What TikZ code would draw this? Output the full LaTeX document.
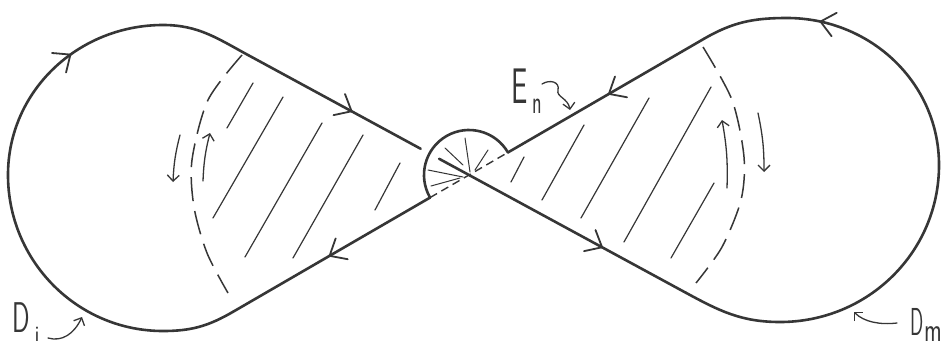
\documentclass[tikz,border=0pt]{standalone}
\usetikzlibrary{arrows.meta,calc,decorations.markings}
\definecolor{ink}{HTML}{363636}
\begin{document}
\begin{tikzpicture}[x=1pt,y=1pt,
  outline/.style={ink, line width=2.6pt, line cap=round, line join=round},
  hatch/.style={ink, line width=1.2pt, line cap=round},
  dasharc/.style={ink, line width=1.5pt, dash pattern=on 24pt off 10pt},
  innerdash/.style={ink, line width=1.4pt, dash pattern=on 8pt off 5pt},
  spoke/.style={ink, line width=1pt, line cap=round},
  smallarrow/.style={ink, line width=1.3pt, line cap=round, -{Straight Barb[length=6pt,width=12pt,line width=1.3pt]}},
  markat/.style={postaction={decorate}, decoration={markings, mark=at position #1 with {\draw[ink, solid, line width=1.8pt, line cap=round, line join=round] (-14pt,12pt) -- (0pt,0pt) -- (-14pt,-12pt);}}},
  lab/.style={ink, inner sep=0pt, font=\sffamily}
]
\useasboundingbox (0,0) rectangle (949,-346);
\fill[white] (0,0) rectangle (949,-346);

% key points
\coordinate (X) at (469,-175);
\coordinate (P1) at ($(X)+(151.5:251.5)$);
\coordinate (P4) at ($(X)+(-28.5:247)$);
\coordinate (P2) at ($(X)+(210.1:272.8)$);
\coordinate (P3) at ($(X)+(30.1:271.6)$);
\coordinate (A30) at ($(X)+(30.1:45)$);
\coordinate (A210) at ($(X)+(210.1:45)$);
\coordinate (GS) at ($(X)+(151.5:55)$);
\coordinate (GE) at ($(X)+(151.5:34)$);
\coordinate (Lbot) at (163,-331);
\coordinate (Lleft) at (8,-175);
\coordinate (Ltop) at (163,-25);
\coordinate (Rbot) at (780,-322);
\coordinate (Rright) at (939,-165);
\coordinate (Rtop) at (787,-18);

% hatching (left)
\draw[hatch] (253,-83) -- (227,-128);
\draw[hatch] (283,-97) -- (213,-218);
\draw[hatch] (322,-123) -- (245,-257);
\draw[hatch] (363,-135) -- (293,-258);
\draw[hatch] (400,-163) -- (375,-210);
% hatching (right)
\draw[hatch] (524,-157) -- (511,-182);
\draw[hatch] (584,-125) -- (542,-200);
\draw[hatch] (649,-98) -- (581,-218);
\draw[hatch] (711,-87) -- (624,-242);
\draw[hatch] (714,-183) -- (671,-258);

% dashed arcs
\draw[dasharc] plot[smooth] coordinates {(242,-55) (208,-100) (192,-160) (194,-207) (207,-253) (228,-293)};
\draw[dasharc] plot[smooth] coordinates {(703,-47) (732,-100) (744,-157) (741,-200) (722,-247) (696,-283)};

% small arrows in regions
\draw[smallarrow] (180,-135) to[bend right=6] (173,-182);
\draw[smallarrow] (203,-181) to[bend left=6] (210,-133);
\draw[smallarrow] (727,-188) to[bend right=6] (722,-120);
\draw[smallarrow] (758,-113) to[bend left=6] (764,-172);

% outline
\draw[outline, markat=0.707] (P2) to[out=210.1,in=0] (Lbot) to[out=180,in=270] (Lleft) to[out=90,in=180] (Ltop) to[out=0,in=151.5] (P1);
\draw[outline, markat=0.6] (P1) -- (GS);
\draw[outline, markat=0.66] (GE) -- (P4);
\draw[outline, markat=0.82] (P4) to[out=-28.5,in=180] (Rbot) to[out=0,in=270] (Rright) to[out=90,in=0] (Rtop) to[out=180,in=30.1] (P3);
\draw[outline, markat=0.485] (P3) -- (A30);
\draw[outline, markat=0.51] (A210) -- (P2);
\draw[outline] (A210) arc[start angle=210.1, end angle=30.1, radius=45];
\draw[innerdash] (A210) -- (A30);

% spokes
\draw[spoke] (470,-172) -- (465,-138);
\draw[spoke] (463,-165) -- (445,-148);
\draw[spoke] (475,-170) -- (488,-150);
\draw[spoke] (463,-177) -- (428,-170);
\draw[spoke] (460,-178) -- (431,-186);

% labels
\node[lab, anchor=base] (Di) at (21,-332) {\fontsize{43}{43}\selectfont\scalebox{0.6}[1]{D}};
\node[lab, anchor=base] (Disub) at (37,-341) {\fontsize{22}{22}\selectfont i};
\node[lab, anchor=base] (En) at (520,-103) {\fontsize{50}{50}\selectfont\scalebox{0.58}[1]{E}};
\node[lab, anchor=base] (Ensub) at (537,-113) {\fontsize{33}{33}\selectfont\scalebox{0.6}[1]{n}};
\node[lab, anchor=base] (Dm) at (917.5,-335) {\fontsize{39}{39}\selectfont\scalebox{0.5}[1]{D}};
\node[lab, anchor=base west] (Dmsub) at (924,-341) {\fontsize{34}{34}\selectfont\scalebox{0.7}[1]{m}};

\coordinate (DiA) at (48,-338);
\coordinate (DiB) at (82,-317);
\draw[smallarrow] (DiA) .. controls (62,-342) and (74,-334) .. (DiB);
\coordinate (DmA) at (897,-323);
\coordinate (DmB) at (854,-312);
\draw[smallarrow] (DmA) .. controls (880,-325) and (864,-322) .. (DmB);
\coordinate (EnA) at (542,-84);
\coordinate (EnB) at (570,-110);
\draw[smallarrow] (EnA) .. controls (550,-79) and (560,-82) .. (558,-90) .. controls (556,-97) and (568,-98) .. (EnB);
\end{tikzpicture}
\end{document}
